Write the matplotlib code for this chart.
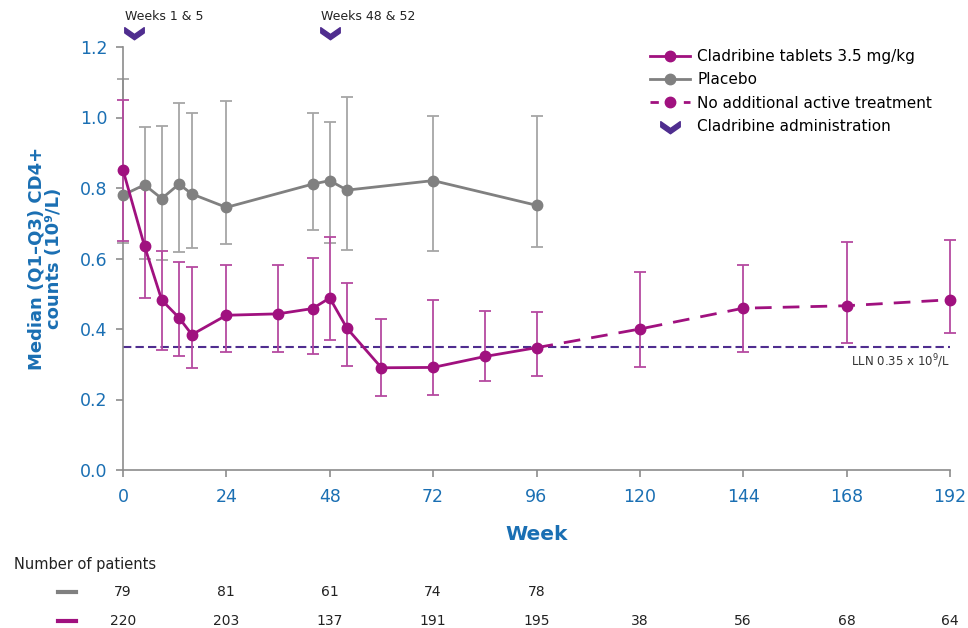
import matplotlib
matplotlib.use("Agg")
import matplotlib.pyplot as plt
import matplotlib.transforms as mtransforms
from matplotlib.path import Path
from matplotlib.lines import Line2D
import numpy as np

# ---------------- data ----------------
placebo_weeks = [0, 5, 9, 13, 16, 24, 44, 48, 52, 72, 96]
placebo_median = [0.780, 0.809, 0.770, 0.811, 0.783, 0.745, 0.811, 0.821, 0.794, 0.821, 0.751]
placebo_q1 = [0.645, 0.600, 0.596, 0.619, 0.631, 0.640, 0.682, 0.643, 0.623, 0.621, 0.634]
placebo_q3 = [1.108, 0.974, 0.977, 1.041, 1.013, 1.048, 1.012, 0.987, 1.057, 1.005, 1.005]

clad_weeks = [0, 5, 9, 13, 16, 24, 36, 44, 48, 52, 60, 72, 84, 96]
clad_median = [0.851, 0.635, 0.482, 0.432, 0.384, 0.439, 0.443, 0.458, 0.488, 0.402, 0.290, 0.291, 0.322, 0.347]
clad_q1 = [0.650, 0.489, 0.340, 0.323, 0.289, 0.334, 0.335, 0.328, 0.369, 0.294, 0.211, 0.213, 0.252, 0.268]
clad_q3 = [1.050, 0.800, 0.621, 0.591, 0.577, 0.581, 0.581, 0.601, 0.662, 0.530, 0.427, 0.481, 0.450, 0.449]

ext_weeks = [96, 120, 144, 168, 192]
ext_median = [0.347, 0.400, 0.459, 0.466, 0.483]
ext_q1 = [0.268, 0.293, 0.335, 0.360, 0.388]
ext_q3 = [0.449, 0.563, 0.582, 0.647, 0.652]

lln_value = 0.35
admin_weeks = [2.5, 48]
admin_labels = ["Weeks 1 & 5", "Weeks 48 & 52"]

x_ticks = [0, 24, 48, 72, 96, 120, 144, 168, 192]
y_ticks = [0.0, 0.2, 0.4, 0.6, 0.8, 1.0, 1.2]

n_weeks_placebo = [0, 24, 48, 72, 96]
n_placebo = [79, 81, 61, 74, 78]
n_weeks_clad = [0, 24, 48, 72, 96, 120, 144, 168, 192]
n_clad = [220, 203, 137, 191, 195, 38, 56, 68, 64]

# ---------------- style ----------------
MAG = "#a0117f"
MAG_BAR = "#b54aa0"
GRAY = "#808080"
GRAY_BAR = "#a6a6a6"
PURPLE = "#4f2d8f"
BLUE = "#1a6fb3"
AX_GRAY = "#8c8c8c"

plt.rcParams['font.family'] = ['DejaVu Sans']

fig = plt.figure(figsize=(9.68, 6.28), dpi=100)
ax = fig.add_axes([123/968, 1-470/628, (950-123)/968, (470-47)/628])

# chevron marker (pointing down)
chev = Path([(-1, 0.5), (0, -0.2), (1, 0.5), (1, -0.05), (0, -0.75), (-1, -0.05), (-1, 0.5)],
            [Path.MOVETO] + [Path.LINETO]*5 + [Path.CLOSEPOLY])

def qerr(m, q1, q3):
    m, q1, q3 = map(np.asarray, (m, q1, q3))
    return np.vstack([m - q1, q3 - m])

ax.errorbar(placebo_weeks, placebo_median, yerr=qerr(placebo_median, placebo_q1, placebo_q3),
            fmt='none', ecolor=GRAY_BAR, elinewidth=1.3, capsize=4, capthick=1.3, zorder=2, clip_on=False)
ax.errorbar(clad_weeks, clad_median, yerr=qerr(clad_median, clad_q1, clad_q3),
            fmt='none', ecolor=MAG_BAR, elinewidth=1.3, capsize=4, capthick=1.3, zorder=3, clip_on=False)
ax.errorbar(ext_weeks[1:], ext_median[1:], yerr=qerr(ext_median[1:], ext_q1[1:], ext_q3[1:]),
            fmt='none', ecolor=MAG_BAR, elinewidth=1.3, capsize=4, capthick=1.3, zorder=3, clip_on=False)

# LLN
ax.plot([x_ticks[0], x_ticks[-1]], [lln_value, lln_value], color=PURPLE, lw=1.5,
        dashes=(4, 2), zorder=2.5)
ax.text(x_ticks[-1], lln_value - 0.015, "LLN 0.35 x 10$^{9}$/L", ha='right', va='top',
        fontsize=8.5, color="#333333")

# lines
MS = 7.5
ax.plot(placebo_weeks, placebo_median, color=GRAY, lw=2, marker='o', ms=MS, zorder=4, clip_on=False)
ax.plot(ext_weeks, ext_median, color=MAG, lw=2, dashes=(6, 4), marker='o', ms=MS,
        markevery=list(range(1, len(ext_weeks))), zorder=5, clip_on=False)
ax.plot(clad_weeks, clad_median, color=MAG, lw=2, marker='o', ms=MS, zorder=6, clip_on=False)

# administration markers
trans = mtransforms.blended_transform_factory(ax.transData, ax.transAxes)
for w, lab in zip(admin_weeks, admin_labels):
    ax.plot([w], [1.035], marker=chev, ms=14, color=PURPLE, transform=trans, clip_on=False,
            linestyle='none')
    ax.text(w - 2.0, 1.071, lab, transform=trans, ha='left', va='center', fontsize=9,
            color="#222222")

# axes styling
ax.set_xlim(x_ticks[0], x_ticks[-1])
ax.set_ylim(y_ticks[0], y_ticks[-1])
ax.set_xticks(x_ticks)
ax.set_yticks(y_ticks)
ax.set_yticklabels([f"{v:.1f}" for v in y_ticks])
ax.spines['top'].set_visible(False)
ax.spines['right'].set_visible(False)
for s in ('left', 'bottom'):
    ax.spines[s].set_color(AX_GRAY)
    ax.spines[s].set_linewidth(1.2)
ax.tick_params(axis='both', colors=AX_GRAY, labelcolor=BLUE, labelsize=12.5, length=5, width=1.2)
ax.tick_params(axis='x', pad=8)
ax.tick_params(axis='y', pad=6)

ax.set_xlabel("Week", fontsize=14.5, fontweight='bold', color=BLUE, labelpad=14)
ax.set_ylabel("Median (Q1\u2013Q3) CD4+\ncounts (10\u2079/L)", fontsize=13, fontweight='bold',
              color=BLUE, labelpad=12, linespacing=1.0)

# legend
handles = [
    Line2D([], [], color=MAG, lw=2, marker='o', ms=MS),
    Line2D([], [], color=GRAY, lw=2, marker='o', ms=MS),
    Line2D([], [], color=MAG, lw=2, dashes=(3, 3), marker='o', ms=MS),
    Line2D([], [], color=PURPLE, marker=chev, ms=14, linestyle='none'),
]
labels = ["Cladribine tablets 3.5 mg/kg", "Placebo", "No additional active treatment",
          "Cladribine administration"]
ax.legend(handles, labels, loc='upper left', bbox_to_anchor=(0.63, 1.01), frameon=False,
          fontsize=11, handlelength=2.6, labelspacing=0.55, borderaxespad=0, handletextpad=0.5)

# number of patients
fig.text(14/968, 1-565/628, "Number of patients", fontsize=10.5, color="#222222", va='center')
tf = mtransforms.blended_transform_factory(ax.transData, fig.transFigure)
fig.add_artist(Line2D([58/968, 76/968], [1-592/628]*2, color=GRAY, lw=3, transform=fig.transFigure))
fig.add_artist(Line2D([58/968, 76/968], [1-621/628]*2, color=MAG, lw=3, transform=fig.transFigure))
for w, n in zip(n_weeks_placebo, n_placebo):
    ax.text(w, 1-592/628, str(n), transform=tf, ha='center', va='center', fontsize=10,
            color="#222222", family=['Liberation Sans Narrow', 'DejaVu Sans'])
for w, n in zip(n_weeks_clad, n_clad):
    ax.text(w, 1-621/628, str(n), transform=tf, ha='center', va='center', fontsize=10,
            color="#222222", family=['Liberation Sans Narrow', 'DejaVu Sans'])

fig.savefig("out.png", dpi=100)
